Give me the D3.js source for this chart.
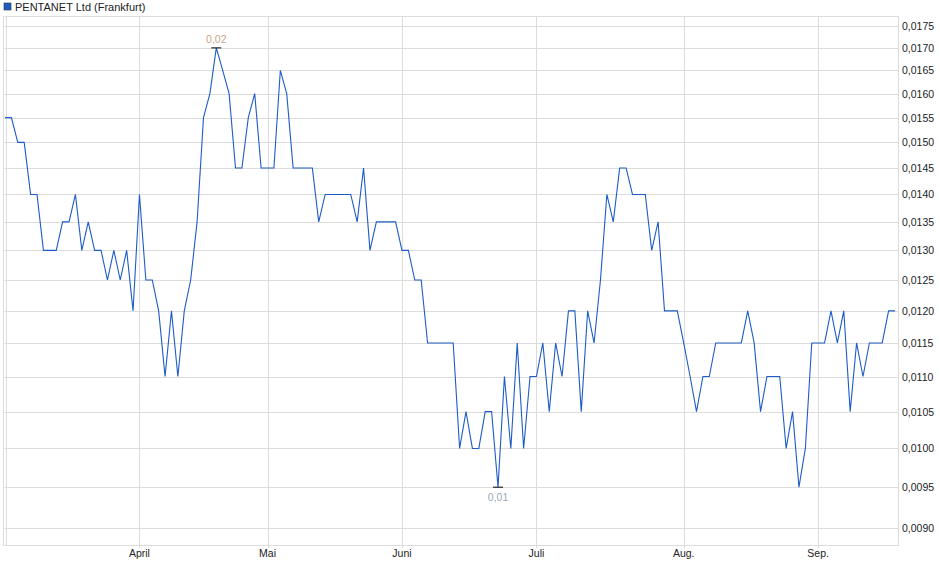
<!DOCTYPE html>
<html>
<head>
<meta charset="utf-8">
<script src="https://cdn.jsdelivr.net/npm/d3@7"></script>
<style>
body { margin: 0; background: #fff; }
text { font-family: "Liberation Sans", Arial, sans-serif; }
</style>
</head>
<body>
<div id="chart"></div>
<script>
const title = "PENTANET Ltd (Frankfurt)";

// one close per trading day
const prices = [
	0.0155, 0.0155, 0.0150, 0.0150, 0.0140, 0.0140, 0.0130, 0.0130, 0.0130, 0.0135,
	0.0135, 0.0140, 0.0130, 0.0135, 0.0130, 0.0130, 0.0125, 0.0130, 0.0125, 0.0130,
	0.0120, 0.0140, 0.0125, 0.0125, 0.0120, 0.0110, 0.0120, 0.0110, 0.0120, 0.0125,
	0.0135, 0.0155, 0.0160, 0.0170, 0.0165, 0.0160, 0.0145, 0.0145, 0.0155, 0.0160,
	0.0145, 0.0145, 0.0145, 0.0165, 0.0160, 0.0145, 0.0145, 0.0145, 0.0145, 0.0135,
	0.0140, 0.0140, 0.0140, 0.0140, 0.0140, 0.0135, 0.0145, 0.0130, 0.0135, 0.0135,
	0.0135, 0.0135, 0.0130, 0.0130, 0.0125, 0.0125, 0.0115, 0.0115, 0.0115, 0.0115,
	0.0115, 0.0100, 0.0105, 0.0100, 0.0100, 0.0105, 0.0105, 0.0095, 0.0110, 0.0100,
	0.0115, 0.0100, 0.0110, 0.0110, 0.0115, 0.0105, 0.0115, 0.0110, 0.0120, 0.0120,
	0.0105, 0.0120, 0.0115, 0.0125, 0.0140, 0.0135, 0.0145, 0.0145, 0.0140, 0.0140,
	0.0140, 0.0130, 0.0135, 0.0120, 0.0120, 0.0120, 0.0115, 0.0110, 0.0105, 0.0110,
	0.0110, 0.0115, 0.0115, 0.0115, 0.0115, 0.0115, 0.0120, 0.0115, 0.0105, 0.0110,
	0.0110, 0.0110, 0.0100, 0.0105, 0.0095, 0.0100, 0.0115, 0.0115, 0.0115, 0.0120,
	0.0115, 0.0120, 0.0105, 0.0115, 0.0110, 0.0115, 0.0115, 0.0115, 0.0120, 0.0120
];

const monthLabels = ["April", "Mai", "Juni", "Juli", "Aug.", "Sep."];
const monthIndex = [21, 41, 62, 83, 106, 127];

const yTicks = d3.range(18).map(i => +(0.0090 + i * 0.0005).toFixed(4));

const W = 940, H = 579;
const plotL = 3, plotR = 898, plotT = 16, plotB = 545;

const svg = d3.select("#chart").append("svg")
	.attr("width", W)
	.attr("height", H);

const x = d3.scaleLinear().domain([0, prices.length - 1]).range([5, 895]);
const y = d3.scaleLog().domain([0.0090, 0.0175]).range([528, 26]);

const fmt = v => v.toFixed(4).replace(".", ",");
const grid = "#dcdcdc";

// legend
svg.append("rect").attr("x", 4).attr("y", 3).attr("width", 7).attr("height", 7)
	.attr("fill", "#1d5cc8").attr("stroke", "#333").attr("stroke-width", 0.6);
svg.append("text").attr("x", 15).attr("y", 10.5).attr("font-size", 11)
	.attr("fill", "#222").text(title);

// horizontal grid + right labels
svg.append("g").selectAll("line").data(yTicks).enter().append("line")
	.attr("x1", plotL).attr("x2", plotR)
	.attr("y1", d => Math.round(y(d)) + 0.5).attr("y2", d => Math.round(y(d)) + 0.5)
	.attr("stroke", grid);

svg.append("g").selectAll("text").data(yTicks).enter().append("text")
	.attr("x", 902).attr("y", d => y(d) + 4)
	.attr("font-size", 10.5).attr("fill", "#222")
	.text(fmt);

// vertical grid + month labels
svg.append("g").selectAll("line").data(monthIndex).enter().append("line")
	.attr("x1", d => Math.round(x(d)) + 0.5).attr("x2", d => Math.round(x(d)) + 0.5)
	.attr("y1", plotT).attr("y2", plotB + 3)
	.attr("stroke", grid);
svg.append("line").attr("x1", 6.5).attr("x2", 6.5).attr("y1", plotT).attr("y2", plotB)
	.attr("stroke", grid);

svg.append("g").selectAll("text").data(monthIndex).enter().append("text")
	.attr("x", d => x(d)).attr("y", 557)
	.attr("text-anchor", "middle").attr("font-size", 10.5).attr("fill", "#222")
	.text((d, i) => monthLabels[i]);

// frame
svg.append("rect").attr("x", plotL + 0.5).attr("y", plotT + 0.5)
	.attr("width", plotR - plotL).attr("height", plotB - plotT)
	.attr("fill", "none").attr("stroke", grid);

// price line
const line = d3.line().x((d, i) => x(i)).y(d => y(d));
svg.append("path").datum(prices)
	.attr("d", line)
	.attr("fill", "none").attr("stroke", "#1d5cc8").attr("stroke-width", 1.1);

// high / low markers
const hi = d3.maxIndex(prices), lo = d3.minIndex(prices);
[[hi, -1, "0,02"], [lo, 1, "0,01"]].forEach(([i, dir, lbl]) => {
	const px = x(i), py = y(prices[i]);
	svg.append("line").attr("x1", px - 5).attr("x2", px + 5)
		.attr("y1", py).attr("y2", py).attr("stroke", "#000").attr("stroke-width", 1);
	svg.append("text").attr("x", px).attr("y", dir < 0 ? py - 5 : py + 14)
		.attr("text-anchor", "middle").attr("font-size", 10.5)
		.attr("fill", dir < 0 ? "#c8a88a" : "#9aa8b8").text(lbl);
});
</script>
</body>
</html>
